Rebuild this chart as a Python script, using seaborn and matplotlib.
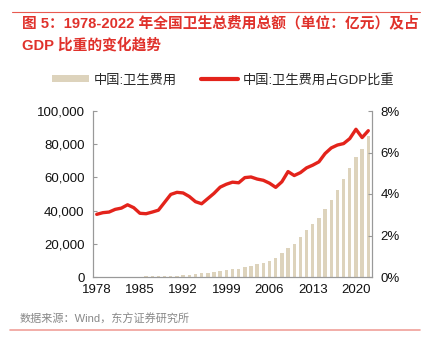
import numpy as np
import pandas as pd
import matplotlib
matplotlib.use("Agg")
import matplotlib.pyplot as plt
import seaborn as sns
from matplotlib.patches import Patch
from matplotlib.lines import Line2D
from matplotlib.ticker import FuncFormatter

sns.set_style("white")
plt.rcParams['font.family'] = ['Liberation Sans', 'Noto Sans CJK SC', 'DejaVu Sans']

years = list(range(1978, 2023))
spending = [110.2, 126.2, 143.2, 160.1, 177.5, 207.4, 242.1, 279.0, 315.9, 379.6,
            488.0, 615.5, 747.4, 893.5, 1096.9, 1377.8, 1761.2, 2155.1, 2709.4, 3196.7,
            3678.7, 4047.5, 4586.6, 5025.9, 5790.0, 6584.1, 7590.3, 8659.9, 9843.3, 11574.0,
            14535.4, 17541.9, 19980.4, 24345.9, 28119.0, 31669.0, 35312.4, 40974.6, 46344.9, 52598.3,
            59121.9, 65841.4, 72175.0, 76845.0, 84846.7]
share = [3.02, 3.10, 3.13, 3.26, 3.32, 3.48, 3.34, 3.07, 3.05, 3.13,
         3.22, 3.60, 3.98, 4.08, 4.05, 3.88, 3.63, 3.53, 3.78, 4.03,
         4.33, 4.47, 4.57, 4.54, 4.79, 4.82, 4.72, 4.66, 4.52, 4.32,
         4.59, 5.08, 4.89, 5.03, 5.26, 5.39, 5.55, 5.95, 6.22, 6.36,
         6.43, 6.67, 7.12, 6.72, 7.05]
xtick_years = [1978, 1985, 1992, 1999, 2006, 2013, 2020]

bar_label = "中国:卫生费用"
line_label = "中国:卫生费用占GDP比重"
title = "图 5：1978-2022 年全国卫生总费用总额（单位：亿元）及占\nGDP 比重的变化趋势"
source = "数据来源：Wind，东方证券研究所"

df = pd.DataFrame({"year": years, "spending": spending, "share": share})

BAR_C = "#DDD3BC"
LINE_C = "#E3231B"
RED_T = "#E0312B"
SPINE_C = "#999999"

fig = plt.figure(figsize=(4.25, 3.49), dpi=100)
ax = fig.add_axes([93/425, 1-277/349, (372-93)/425, (277-111)/349])

sns.barplot(data=df, x="year", y="spending", native_scale=True, color=BAR_C,
            width=0.55, saturation=1, ax=ax, edgecolor="none")
ax.set_ylim(0, 100000)
ax.set_xlim(1977.4, 2022.6)
ax.set_xticks(xtick_years)
ax.set_xticklabels([str(y) for y in xtick_years])
ax.yaxis.set_major_formatter(FuncFormatter(lambda v, p: f"{int(v):,}"))
ax.set_yticks(np.arange(0, 100001, 20000))
ax.set_xlabel("")
ax.set_ylabel("")

ax2 = ax.twinx()
sns.lineplot(data=df, x="year", y="share", color=LINE_C, linewidth=2.4, ax=ax2)
ax2.set_ylim(0, 8)
ax2.set_yticks(np.arange(0, 9, 2))
ax2.yaxis.set_major_formatter(FuncFormatter(lambda v, p: f"{int(v)}%"))
ax2.set_ylabel("")
ax2.set_xlim(1977.4, 2022.6)

for a in (ax, ax2):
    a.spines['top'].set_visible(False)
    for s in ('left', 'right', 'bottom'):
        a.spines[s].set_color(SPINE_C)
        a.spines[s].set_linewidth(0.8)
    a.tick_params(direction='in', length=3, color=SPINE_C, labelsize=9.5,
                  labelcolor="#111111", pad=6)
ax.tick_params(axis='x', pad=5)

handles = [Patch(facecolor=BAR_C, edgecolor='none'),
           Line2D([0], [0], color=LINE_C, linewidth=3)]
leg = fig.legend(handles, [bar_label, line_label], loc='center', ncol=2,
                 bbox_to_anchor=(0.525, 1-80/349), frameon=False, fontsize=9.5,
                 handlelength=2.8, handleheight=0.5, columnspacing=1.8, handletextpad=0.4)

fig.text(22/425, 1-15/349, title, color=RED_T, fontsize=10.6, fontweight='semibold',
         va='top', ha='left', linespacing=1.65)
fig.add_artist(Line2D([12/425, 420/425], [1-12/349, 1-12/349], color="#E85A50", linewidth=0.8))
fig.text(20/425, 1-319/349, source, color="#888888", fontsize=8, va='center', ha='left')
fig.add_artist(Line2D([10/425, 420/425], [1-330/349, 1-330/349], color="#F0A09A", linewidth=1.2))

fig.savefig("out.png", dpi=100)
